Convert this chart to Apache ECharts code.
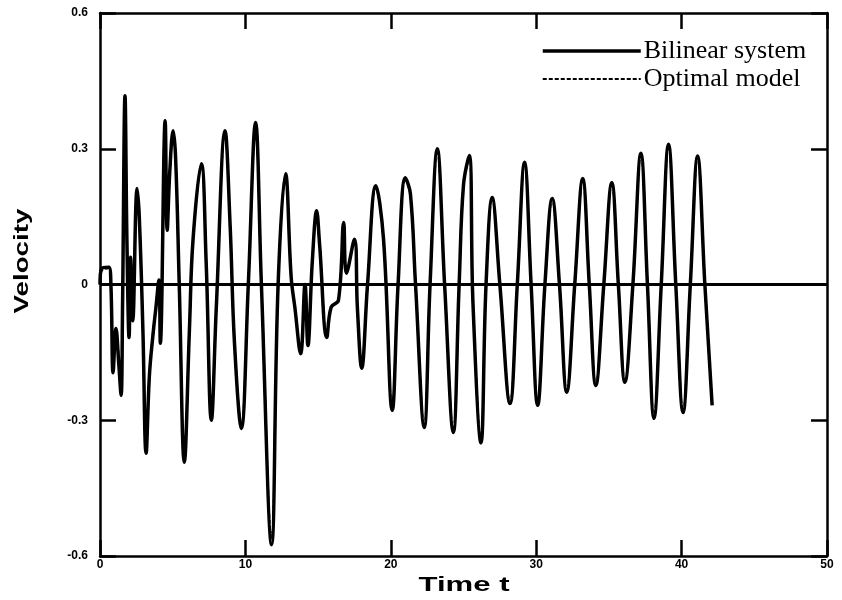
<!doctype html>
<html>
<head>
    <meta charset="utf-8">
    <title>Velocity</title>
    <script src="https://cdn.jsdelivr.net/npm/echarts@6/dist/echarts.min.js"></script>
    <style>
        html, body { margin: 0; padding: 0; background: #fff; }
        #main { width: 842px; height: 600px; }
    </style>
</head>
<body>
    <div id="main"></div>
<script type="text/javascript">
    // time points
    var timeT = [0, 0.1, 0.6, 0.75, 0.9, 1.1, 1.3, 1.45, 1.55, 1.72, 1.85, 2.0, 2.1, 2.25, 2.55, 2.7, 2.95, 3.17, 3.4, 3.66,
        3.85, 4.05, 4.15, 4.48, 4.62, 4.8, 5.03, 5.2, 5.45, 5.8, 6.15, 6.4, 6.97, 7.3, 7.66, 8.0, 8.6, 8.95, 9.25, 9.72,
        10.2, 10.7, 11.1, 11.8, 12.25, 12.76, 13.15, 13.4, 13.8, 14.1, 14.3, 14.6, 14.9, 15.1, 15.6, 15.9, 16.4, 16.76, 16.95, 17.5,
        17.7, 18.0, 18.4, 18.97, 19.5, 20.1, 20.5, 21.0, 21.35, 21.7, 22.3, 22.7, 23.2, 23.7, 24.3, 24.7, 25.0, 25.4, 25.65, 26.2,
        26.55, 26.97, 27.5, 28.2, 28.7, 29.2, 29.65, 30.1, 30.6, 31.1, 31.6, 32.1, 32.65, 33.2, 33.65, 34.1, 34.65, 35.2, 35.65, 36.1,
        36.65, 37.2, 37.65, 38.1, 38.6, 39.1, 39.6, 40.1, 40.6, 41.1, 41.6, 42.1];
    // bilinear system velocity
    var vSystem = [0, 0.035, 0.038, 0, -0.195, -0.097, -0.18, -0.245, -0.05, 0.417, 0.1, -0.117, 0.06, -0.08, 0.212, 0.15, -0.1, -0.373, -0.2, -0.106,
        -0.05, 0.01, -0.13, 0.362, 0.12, 0.25, 0.34, 0.28, 0, -0.393, -0.1, 0.1, 0.267, 0.05, -0.3, -0.05, 0.34, 0.13, -0.13, -0.318,
        0, 0.358, 0, -0.575, 0, 0.245, 0.015, -0.05, -0.153, 0, -0.135, 0.05, 0.163, 0.09, -0.117, -0.05, -0.035, 0.137, 0.025, 0.1,
        -0.05, -0.185, 0, 0.218, 0.1, -0.278, 0, 0.236, 0.2, 0, -0.316, 0, 0.3, 0, -0.327, 0, 0.22, 0.285, -0.04, -0.35,
        0, 0.192, 0, -0.263, 0, 0.27, 0, -0.267, 0, 0.19, 0, -0.238, 0, 0.234, 0, -0.223, 0, 0.225, 0, -0.216,
        0, 0.29, 0, -0.296, 0, 0.31, 0, -0.283, 0, 0.284, 0, -0.267];
    // optimal model velocity (almost on top of the system)
    var vModel = [0, 0.03, 0.036, 0, -0.19, -0.1, -0.17, -0.24, -0.05, 0.4, 0.1, -0.11, 0.05, -0.07, 0.205, 0.15, -0.1, -0.365, -0.2, -0.1,
        -0.05, 0.01, -0.12, 0.355, 0.13, 0.25, 0.335, 0.28, 0, -0.385, -0.1, 0.1, 0.262, 0.05, -0.295, -0.05, 0.335, 0.13, -0.13, -0.31,
        0, 0.352, 0, -0.56, 0, 0.24, 0.015, -0.05, -0.148, 0, -0.13, 0.05, 0.158, 0.09, -0.112, -0.05, -0.035, 0.132, 0.025, 0.1,
        -0.05, -0.18, 0, 0.214, 0.1, -0.274, 0, 0.232, 0.2, 0, -0.312, 0, 0.295, 0, -0.323, 0, 0.22, 0.28, -0.04, -0.345,
        0, 0.19, 0, -0.26, 0, 0.267, 0, -0.264, 0, 0.188, 0, -0.235, 0, 0.232, 0, -0.22, 0, 0.222, 0, -0.214,
        0, 0.287, 0, -0.293, 0, 0.306, 0, -0.28, 0, 0.281, 0, -0.265];
    var xTicks = [0, 10, 20, 30, 40, 50];
    var yTicks = [-0.6, -0.3, 0, 0.3, 0.6];

    var sysData = timeT.map(function (t, i) { return [t, vSystem[i]]; });
    var modelData = timeT.map(function (t, i) { return [t, vModel[i]]; });

    var tickLabel = { fontFamily: 'Liberation Sans', fontSize: 12, fontWeight: 'bold', color: '#000' };
    var axisLine = { show: true, onZero: false, lineStyle: { color: '#000', width: 2.5 } };
    var tick = { show: true, inside: true, length: 16, lineStyle: { color: '#000', width: 2.5 } };
    // wide sans for the axis titles, stretched like the scanned figure
    var titleFont = { fontFamily: 'Liberation Sans', fontSize: 21, fontWeight: 'bold', fill: '#000' };

    var myChart = echarts.init(document.getElementById('main'));
    var option = {
        animation: false,
        backgroundColor: '#fff',
        grid: { left: 100, right: 15, top: 13, bottom: 44 },
        legend: {
            orient: 'vertical',
            left: 541,
            top: 38,
            padding: 0,
            itemWidth: 98,
            itemHeight: 14,
            itemGap: 2,
            itemStyle: { opacity: 0 },
            lineStyle: { width: 'inherit' },
            textStyle: { fontFamily: 'Liberation Serif', fontSize: 26, color: '#000', padding: [0, 0, 0, -2] },
            data: ['Bilinear system', 'Optimal model']
        },
        graphic: [{
            type: 'text', x: 464, y: 585, scaleX: 1.48,
            style: Object.assign({ text: 'Time t', align: 'center', verticalAlign: 'middle' }, titleFont)
        }, {
            type: 'text', x: 22, y: 261, rotation: Math.PI / 2, scaleX: 1.32,
            style: Object.assign({ text: 'Velocity', align: 'center', verticalAlign: 'middle' }, titleFont)
        }],
        xAxis: [{
            type: 'value', min: xTicks[0], max: xTicks[xTicks.length - 1], interval: 10,
            axisLine: axisLine, axisTick: tick, splitLine: { show: false },
            axisLabel: Object.assign({ margin: 3 }, tickLabel)
        }, {
            type: 'value', position: 'top', min: xTicks[0], max: xTicks[xTicks.length - 1], interval: 10,
            axisLine: axisLine, axisTick: tick, splitLine: { show: false }, axisLabel: { show: false }
        }],
        yAxis: [{
            type: 'value', min: yTicks[0], max: yTicks[yTicks.length - 1], interval: 0.3,
            axisLine: axisLine, axisTick: tick, splitLine: { show: false },
            axisLabel: Object.assign({ margin: 12, formatter: function (v) { return String(Math.round(v * 10) / 10); } }, tickLabel)
        }, {
            type: 'value', position: 'right', min: yTicks[0], max: yTicks[yTicks.length - 1], interval: 0.3,
            axisLine: axisLine, axisTick: tick, splitLine: { show: false }, axisLabel: { show: false }
        }],
        series: [{
            name: 'Bilinear system',
            type: 'line',
            data: sysData,
            smooth: 0.4,
            symbol: 'none',
            lineStyle: { color: '#000', width: 3.5, type: 'solid' },
            itemStyle: { color: '#000' },
            markLine: {
                silent: true,
                symbol: ['none', 'none'],
                label: { show: false },
                lineStyle: { color: '#000', width: 3, type: 'solid' },
                data: [{ yAxis: 0 }]
            }
        }, {
            name: 'Optimal model',
            type: 'line',
            data: modelData,
            smooth: 0.4,
            symbol: 'none',
            lineStyle: { color: '#000', width: 2, type: [4, 2] },
            itemStyle: { color: '#000' }
        }]
    };
    myChart.setOption(option);
</script>
</body>
</html>
